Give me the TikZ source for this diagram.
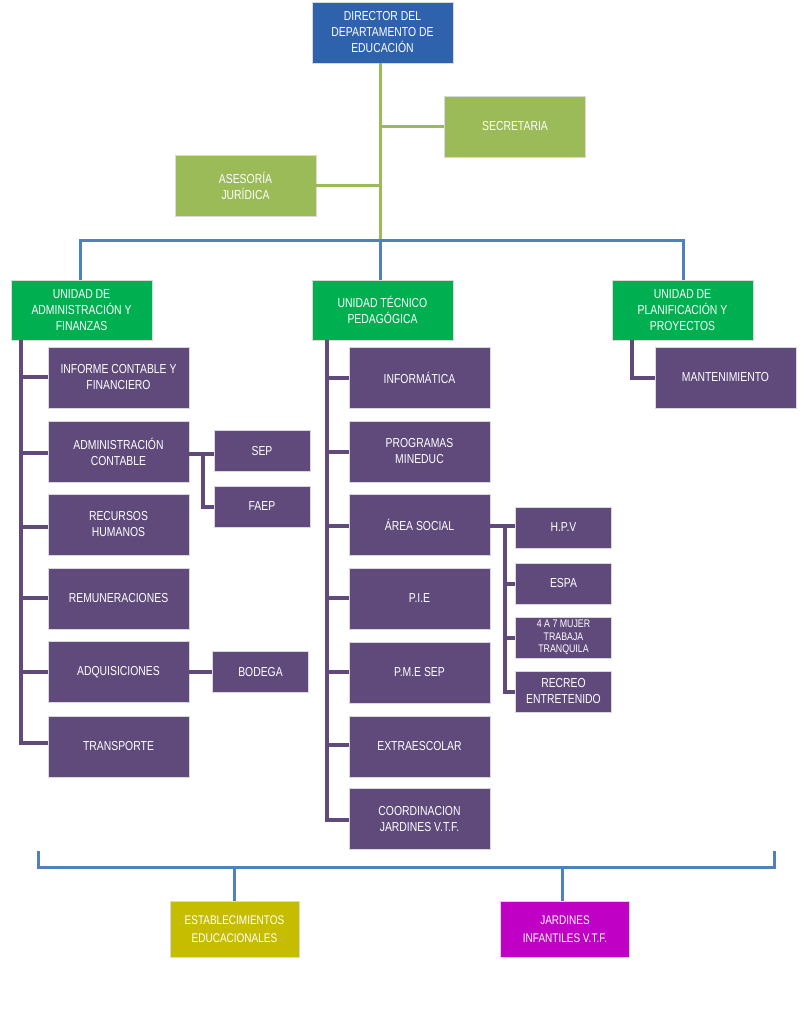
\documentclass[tikz,border=0pt]{standalone}
\usepackage{fontspec}
\setmainfont{Liberation Sans}[FakeStretch=0.8]
\definecolor{dirblue}{HTML}{2F62AC}
\definecolor{lime}{HTML}{9BBB59}
\definecolor{ugreen}{HTML}{00B050}
\definecolor{purp}{HTML}{604A7B}
\definecolor{lblue}{HTML}{4F81BD}
\definecolor{olive}{HTML}{C7BD00}
\definecolor{magen}{HTML}{C000C4}
\tikzset{
  box/.style={draw=white!85!black, line width=0.6pt, text=white, align=center, inner sep=1pt, font=\fontsize{13}{16}\selectfont},
  dirbox/.style={box, fill=dirblue, minimum width=141pt, minimum height=61pt},
  limebox/.style={box, fill=lime, minimum width=141pt, minimum height=61pt},
  unitbox/.style={box, fill=ugreen, minimum width=141pt, minimum height=60pt},
  pbox/.style={box, fill=purp, minimum width=141pt, minimum height=61pt},
  sbox/.style={box, fill=purp, minimum width=96pt, minimum height=41pt},
  bbox/.style={box, fill=#1, minimum width=129pt, minimum height=56pt, font=\fontsize{12.5}{18}\selectfont},
  limeline/.style={draw=lime, line width=3pt},
  blueline/.style={draw=lblue, line width=3pt},
  purpline/.style={draw=purp, line width=3.5pt}
}
\begin{document}
\begin{tikzpicture}[x=1pt,y=-1pt]
\useasboundingbox (0,0) rectangle (807,1024);
% top
\node[dirbox] (dir) at (382.5,32.5) {DIRECTOR DEL\\DEPARTAMENTO DE\\EDUCACIÓN};
\node[limebox] (sec) at (515,126.5) {SECRETARIA};
\node[limebox] (ase) at (245.5,185.5) {ASESORÍA\\JURÍDICA};
\coordinate (top) at (380,63);
\coordinate (hub) at (380,240);
\coordinate (hl) at (80,240);
\coordinate (hr) at (683,240);
\draw[limeline] (top) -- (hub);
\draw[limeline] (380,127) -- (sec.west |- 0,127);
\draw[limeline] (380,186) -- (ase.east |- 0,186);
% units
\node[unitbox] (u1) at (81.5,310) {UNIDAD DE\\ADMINISTRACIÓN Y\\FINANZAS};
\node[unitbox] (u2) at (382.5,310) {UNIDAD TÉCNICO\\PEDAGÓGICA};
\node[unitbox] (u3) at (682.5,310) {UNIDAD DE\\PLANIFICACIÓN Y\\PROYECTOS};
\draw[blueline] (hl |- u1.north) -- (hl) -- (hr) -- (hr |- u3.north);
\draw[blueline] (hub) -- (hub |- u2.north);
% left column
\node[pbox] (a1) at (118.5,377.5) {INFORME CONTABLE Y\\FINANCIERO};
\node[pbox] (a2) at (118.5,451.5) {ADMINISTRACIÓN\\CONTABLE};
\node[pbox] (a3) at (118.5,524.5) {RECURSOS\\HUMANOS};
\node[pbox] (a4) at (118.5,598.5) {REMUNERACIONES};
\node[pbox] (a5) at (118.5,672) {ADQUISICIONES};
\node[pbox] (a6) at (118.5,746.5) {TRANSPORTE};
\node[sbox] (sep) at (262,451) {SEP};
\node[sbox] (faep) at (262,506.5) {FAEP};
\node[sbox] (bod) at (260.5,672) {BODEGA};
\coordinate (lc0) at (21,340);
\draw[purpline] (lc0) -- (21,743) -- (a6.west |- 0,743);
\foreach \n/\y in {a1/377,a2/453,a3/527,a4/598,a5/672}{
  \draw[purpline] (21,\y) -- (\n.west |- 0,\y);
}
\draw[purpline] (a2.east |- 0,454) -- (sep.west |- 0,454);
\draw[purpline] (203,454) -- (203,507) -- (faep.west |- 0,507);
\draw[purpline] (a5.east |- 0,672) -- (bod.west |- 0,672);
% middle column
\node[pbox] (b1) at (419.5,377.5) {INFORMÁTICA};
\node[pbox] (b2) at (419.5,451.5) {PROGRAMAS\\MINEDUC};
\node[pbox] (b3) at (419.5,524.5) {ÁREA SOCIAL};
\node[pbox] (b4) at (419.5,598.5) {P.I.E};
\node[pbox] (b5) at (419.5,672.5) {P.M.E SEP};
\node[pbox] (b6) at (419.5,746.5) {EXTRAESCOLAR};
\node[pbox] (b7) at (419.5,819) {COORDINACION\\JARDINES V.T.F.};
\node[sbox] (c1) at (563.5,527.5) {H.P.V};
\node[sbox] (c2) at (563.5,583.5) {ESPA};
\node[sbox, font=\fontsize{11}{12.5}\selectfont] (c3) at (563.5,637.5) {4 A 7 MUJER\\TRABAJA\\TRANQUILA};
\node[sbox] (c4) at (563.5,691.5) {RECREO\\ENTRETENIDO};
\draw[purpline] (327,340) -- (327,820) -- (b7.west |- 0,820);
\foreach \n/\y in {b1/378,b2/452,b3/526,b4/598,b5/672,b6/745}{
  \draw[purpline] (327,\y) -- (\n.west |- 0,\y);
}
\draw[purpline] (b3.east |- 0,526) -- (c1.west |- 0,526);
\draw[purpline] (505,526) -- (505,692) -- (c4.west |- 0,692);
\draw[purpline] (505,584) -- (c2.west |- 0,584);
\draw[purpline] (505,638) -- (c3.west |- 0,638);
% right column
\node[pbox] (m1) at (725.5,377.5) {MANTENIMIENTO};
\draw[purpline] (632,340) -- (632,378) -- (m1.west |- 0,378);
% bottom
\node[bbox=olive] (est) at (234.5,929) {ESTABLECIMIENTOS\\EDUCACIONALES};
\node[bbox=magen] (jar) at (565,929) {JARDINES\\INFANTILES V.T.F.};
\coordinate (bl) at (38,851);
\coordinate (br) at (774,851);
\draw[blueline] (bl) -- (38,867) -- (774,867) -- (br);
\draw[blueline] (234,867) -- (234,901);
\draw[blueline] (562,867) -- (562,901);
\end{tikzpicture}
\end{document}
